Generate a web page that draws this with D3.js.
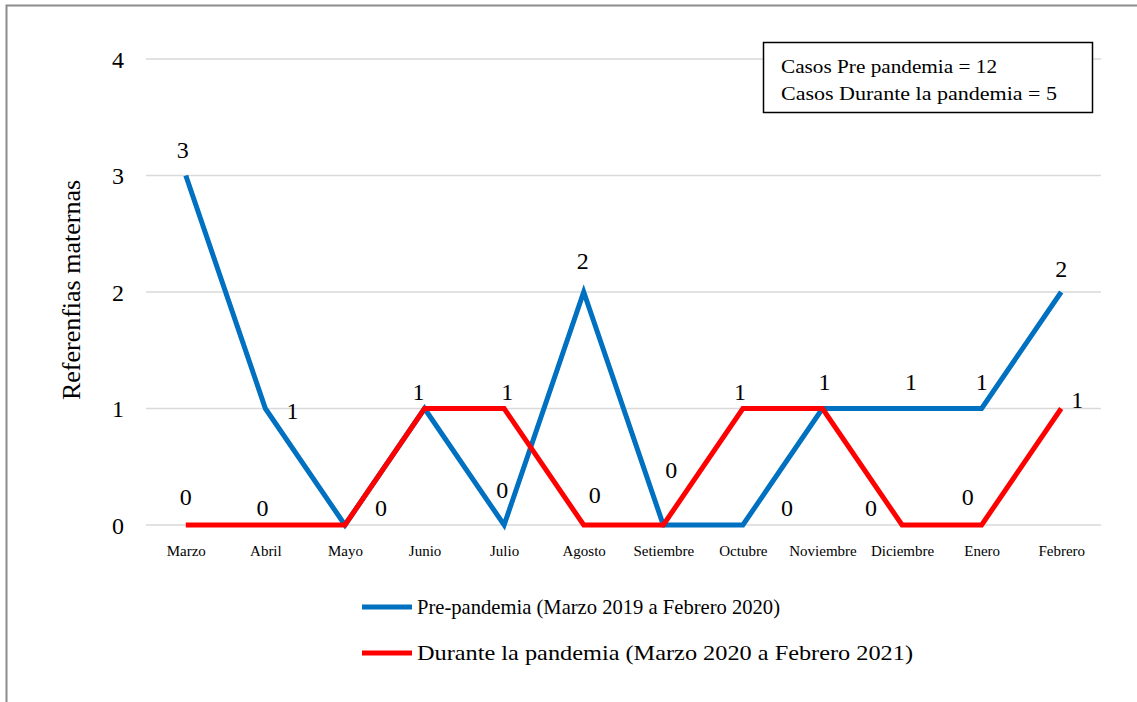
<!DOCTYPE html>
<html>
<head>
<meta charset="utf-8">
<script src="https://cdn.jsdelivr.net/npm/d3@7"></script>
<style>
  body { margin: 0; background: #fff; }
  text { font-family: "Liberation Serif", "Times New Roman", serif; fill: #000; }
</style>
</head>
<body>
<script>
// data
var months = ["Marzo","Abril","Mayo","Junio","Julio","Agosto","Setiembre","Octubre","Noviembre","Diciembre","Enero","Febrero"]
var prePandemia = [3,1,0,1,0,2,0,0,1,1,1,2]
var durantePandemia = [0,0,0,1,1,0,0,1,1,0,0,1]
var yTicks = [0,1,2,3,4]
var seriesNames = ["Pre-pandemia (Marzo 2019 a Febrero 2020)", "Durante la pandemia (Marzo 2020 a Febrero 2021)"]
var boxLines = ["Casos Pre pandemia = 12", "Casos Durante la pandemia = 5"]

// label offsets (px) from each point, null = label not shown
var preLabelOffsets = [[-3,-26],[27,2],[36,-17],[-6,-17],[-2,-35],[-1,-31],[8,-55],[44,-17],[2,-27],[9,-27],[0,-27],[0,-23]]
var durLabelOffsets = [[0,-28],[-3,-17],null,null,[3,-17],[11,-30],null,[-3,-17],null,[-31,-17],[-14,-28],[16,-9]]

var W = 1137, H = 702
var margin = {top: 59, bottom: 177, left: 146, right: 36}

var svg = d3.select("body").append("svg")
    .attr("width", W).attr("height", H)

// outer frame
svg.append("rect")
    .attr("x", 6.5).attr("y", 5.5)
    .attr("width", W + 20).attr("height", H + 20)
    .attr("fill", "none").attr("stroke", "#8c8c8c").attr("stroke-width", 2)

var x = d3.scalePoint()
    .domain(months)
    .range([margin.left, W - margin.right])
    .padding(0.5)

var y = d3.scaleLinear()
    .domain([0, 4])
    .range([H - margin.bottom, margin.top])

// gridlines
svg.append("g").selectAll("line").data(yTicks).enter()
    .append("line")
    .attr("x1", margin.left).attr("x2", W - margin.right)
    .attr("y1", function(d){return y(d)}).attr("y2", function(d){return y(d)})
    .attr("stroke", "#d9d9d9").attr("stroke-width", 1.5)

// y axis labels
var yAxis = svg.append("g")
    .attr("transform", `translate(${margin.left - 22}, 0)`)
    .call(d3.axisLeft(y).tickValues(yTicks).tickSize(0).tickPadding(0).tickFormat(d3.format("d")))
yAxis.select(".domain").remove()
yAxis.selectAll("text").style("font-size", "24px").attr("dy", "0.35em")

// x axis labels
var xAxis = svg.append("g")
    .attr("transform", `translate(0, ${y(0) + 20})`)
    .call(d3.axisBottom(x).tickSize(0).tickPadding(0))
xAxis.select(".domain").remove()
xAxis.selectAll("text").style("font-size", "15px")

// y title
svg.append("text")
    .attr("transform", "translate(80, 290) rotate(-90)")
    .attr("text-anchor", "middle")
    .style("font-size", "26px")
    .text("Referenfias maternas")

var line = d3.line()
    .x(function(d, i){return x(months[i])})
    .y(function(d){return y(d)})

var series = [
  {values: prePandemia, color: "#0070C0", offsets: preLabelOffsets},
  {values: durantePandemia, color: "#FF0000", offsets: durLabelOffsets}
]

series.forEach(function(s){
  svg.append("path")
      .datum(s.values)
      .attr("d", line)
      .attr("fill", "none")
      .attr("stroke", s.color)
      .attr("stroke-width", 5)
})

series.forEach(function(s){
  var pts = s.values.map(function(v, i){return {v: v, m: months[i], off: s.offsets[i]}})
      .filter(function(p){return p.off != null})
  svg.append("g").selectAll("text").data(pts).enter()
    .append("text")
      .attr("x", function(p){return x(p.m) + p.off[0]})
      .attr("y", function(p){return y(p.v) + p.off[1]})
      .attr("dy", "0.35em")
      .attr("text-anchor", "middle")
      .style("font-size", "24px")
      .text(function(p){return p.v})
})

// info box
var boxWidths = [216, 276]
svg.append("rect")
    .attr("x", 763.5).attr("y", 42.5).attr("width", 329).attr("height", 70)
    .attr("fill", "#fff").attr("stroke", "#000").attr("stroke-width", 1.5)
svg.append("g").selectAll("text").data(boxLines).enter()
    .append("text")
    .attr("x", 781)
    .attr("y", function(d, i){return 73 + i * 27})
    .attr("textLength", function(d, i){return boxWidths[i]})
    .attr("lengthAdjust", "spacingAndGlyphs")
    .style("font-size", "19px")
    .text(function(d){return d})

// legend
var legendWidths = [363, 496]
var legend = svg.append("g").selectAll("g").data(series).enter()
    .append("g")
    .attr("transform", function(d, i){return `translate(362, ${607 + i * 46})`})
legend.append("line")
    .attr("x1", 0).attr("x2", 50)
    .attr("stroke", function(d){return d.color}).attr("stroke-width", 5)
legend.append("text")
    .attr("x", 55).attr("dy", "0.35em")
    .attr("textLength", function(d, i){return legendWidths[i]})
    .attr("lengthAdjust", "spacingAndGlyphs")
    .style("font-size", "21px")
    .text(function(d, i){return seriesNames[i]})
</script>
</body>
</html>
